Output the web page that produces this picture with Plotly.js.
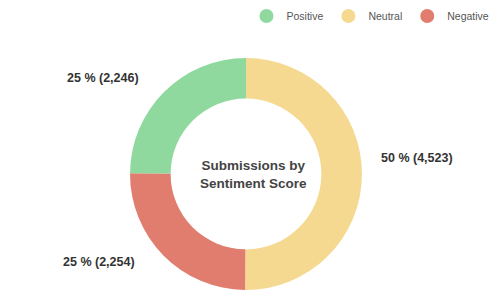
<!DOCTYPE html>
<html>
<head>
<meta charset="utf-8">
<script src="https://cdn.plot.ly/plotly-3.0.1.min.js"></script>
<style>html,body{margin:0;padding:0;overflow:hidden;background:#fff;}#chart{width:502px;height:290px;}</style>
</head>
<body>
<div id="chart"></div>
<script>
var categories = ["Positive", "Neutral", "Negative"];
var counts = [2246, 4523, 2254];
var colors = ["#8fd99e", "#f5d991", "#e07d6e"];
var centerTitle = "Submissions by<br>Sentiment Score";

var total = counts.reduce(function(a, b){ return a + b; }, 0);
var labelText = counts.map(function(v){
  return Math.round(v / total * 100) + " % (" + v.toLocaleString("en-US") + ")";
});

// order around the ring, clockwise from 12 o'clock: Neutral, Negative, Positive
var ringOrder = [1, 2, 0];

var pie = {
  type: "pie",
  labels: ringOrder.map(function(i){ return categories[i]; }),
  values: ringOrder.map(function(i){ return counts[i]; }),
  sort: false,
  direction: "clockwise",
  rotation: 0,
  hole: 0.65,
  marker: {colors: ringOrder.map(function(i){ return colors[i]; }), line: {width: 0}},
  textinfo: "none",
  hoverinfo: "none",
  showlegend: false,
  domain: {x: [0.259, 0.721], y: [0, 0.8]}
};

var legendTraces = categories.map(function(c, i){
  return {
    type: "scatter", mode: "markers", x: [null], y: [null], name: c,
    marker: {color: colors[i], size: 14, symbol: "circle"},
    showlegend: true, hoverinfo: "none"
  };
});

var labelPos = [
  {x: 0.205, y: 0.73},
  {x: 0.83, y: 0.455},
  {x: 0.198, y: 0.097}
];
var annotations = labelText.map(function(t, i){
  return {text: "<b>" + t + "</b>", x: labelPos[i].x, y: labelPos[i].y, xref: "paper", yref: "paper",
    showarrow: false, xanchor: "center", yanchor: "middle",
    font: {family: "Liberation Sans, Arial, sans-serif", size: 12.5, color: "#333"}};
});
annotations.push({
  text: "<b>" + centerTitle + "</b>", x: 0.504, y: 0.4, xref: "paper", yref: "paper",
  showarrow: false, xanchor: "center", yanchor: "middle",
  font: {family: "Liberation Sans, Arial, sans-serif", size: 13.5, color: "#444"}
});

var layout = {
  width: 502, height: 290,
  margin: {l: 0, r: 0, t: 0, b: 0},
  paper_bgcolor: "#fff", plot_bgcolor: "#fff",
  xaxis: {visible: false}, yaxis: {visible: false},
  showlegend: true,
  legend: {orientation: "h", x: 0.985, xanchor: "right", y: 0.995, yanchor: "top",
    font: {family: "Liberation Sans, Arial, sans-serif", size: 10.5, color: "#555"},
    itemclick: false},
  annotations: annotations
};

Plotly.newPlot("chart", [pie].concat(legendTraces), layout, {displayModeBar: false, staticPlot: true});
</script>
</body>
</html>
